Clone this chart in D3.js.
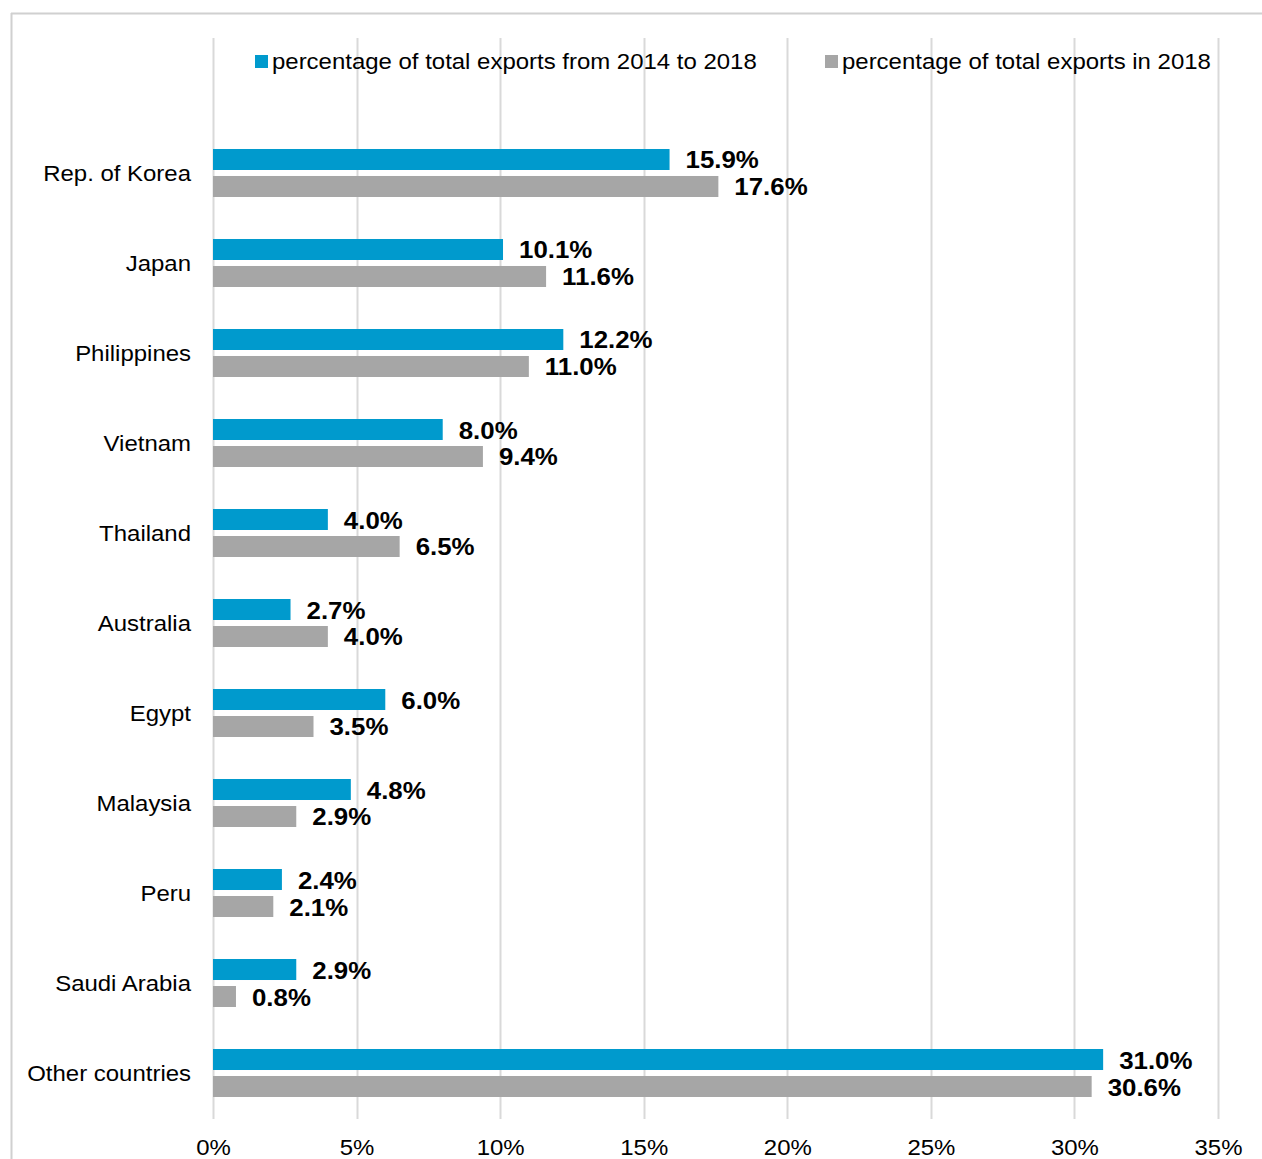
<!DOCTYPE html>
<html>
<head>
<meta charset="utf-8">
<script src="https://cdn.jsdelivr.net/npm/d3@7/dist/d3.min.js"></script>
<style>
  html, body { margin: 0; padding: 0; background: #fff; }
  svg { display: block; font-family: "Liberation Sans", Arial, sans-serif; }
</style>
</head>
<body>
<svg id="chart" width="1262" height="1159"></svg>
<script>
// Export destinations and shares (%)
const categories = ["Rep. of Korea", "Japan", "Philippines", "Vietnam", "Thailand", "Australia",
  "Egypt", "Malaysia", "Peru", "Saudi Arabia", "Other countries"];
const share2014to2018 = [15.9, 10.1, 12.2, 8.0, 4.0, 2.7, 6.0, 4.8, 2.4, 2.9, 31.0];
const share2018 = [17.6, 11.6, 11.0, 9.4, 6.5, 4.0, 3.5, 2.9, 2.1, 0.8, 30.6];
const seriesNames = ["percentage of total exports from 2014 to 2018", "percentage of total exports in 2018"];
const seriesKeys = ["a", "b"];
const xTicks = [0, 5, 10, 15, 20, 25, 30, 35];

const colors = { a: "#009ACD", b: "#A6A6A6" };
const FONT = "Liberation Sans, Arial, sans-serif";
const REG_SIZE = 22.5, REG_STRETCH = 1.065;   // regular text, slightly widened
const BOLD_SIZE = 23.5, BOLD_STRETCH = 1.1;   // value labels

const rows = categories.map((c, i) => ({ cat: c, a: share2014to2018[i], b: share2018[i] }));

const svg = d3.select("#chart");

// Frame lines
svg.append("line").attr("x1", 11).attr("x2", 1262).attr("y1", 13.5).attr("y2", 13.5)
  .attr("stroke", "#d0d0d0").attr("stroke-width", 2);
svg.append("line").attr("x1", 11.5).attr("x2", 11.5).attr("y1", 13).attr("y2", 1159)
  .attr("stroke", "#d0d0d0").attr("stroke-width", 2);

const x = d3.scaleLinear().domain([0, 35]).range([213, 1218]);
const y = d3.scaleBand().domain(categories).range([128, 1118])
  .paddingInner(0.4667).paddingOuter(0.2333);
const ySub = d3.scaleBand().domain(seriesKeys).range([0, y.bandwidth()]).paddingInner(0.222);

// Vertical gridlines
svg.append("g").selectAll("line").data(xTicks).join("line")
  .attr("x1", d => Math.round(x(d)) + 0.5).attr("x2", d => Math.round(x(d)) + 0.5)
  .attr("y1", 38).attr("y2", 1119)
  .attr("stroke", "#d9d9d9").attr("stroke-width", 2);

// X axis labels
const xAxis = d3.axisBottom(x).tickValues(xTicks).tickFormat(d => d + "%").tickSize(0).tickPadding(0);
const gx = svg.append("g").attr("transform", "translate(0,1155)").call(xAxis);
gx.select(".domain").remove();
gx.selectAll("text").attr("y", 0).attr("dy", 0)
  .attr("font-size", REG_SIZE).attr("fill", "#000").attr("font-family", FONT)
  .attr("transform", `scale(${REG_STRETCH},1)`);

// Category labels
const yAxis = d3.axisLeft(y).tickSize(0).tickPadding(0);
const gy = svg.append("g").attr("transform", "translate(191,0)").call(yAxis);
gy.select(".domain").remove();
gy.selectAll("text").attr("x", 0).attr("dy", 0)
  .attr("font-size", REG_SIZE).attr("fill", "#000").attr("font-family", FONT)
  .attr("transform", `translate(0,8) scale(${REG_STRETCH},1)`);

// Bars and value labels
const groups = svg.append("g").selectAll("g").data(rows).join("g")
  .attr("transform", d => `translate(0,${y(d.cat)})`);

seriesKeys.forEach(k => {
  groups.append("rect")
    .attr("x", x(0))
    .attr("y", ySub(k))
    .attr("width", d => x(d[k]) - x(0))
    .attr("height", ySub.bandwidth())
    .attr("fill", colors[k]);
  groups.append("g")
    .attr("transform", d => `translate(${x(d[k]) + 16},${ySub(k) + ySub.bandwidth() / 2 + 9}) scale(${BOLD_STRETCH},1)`)
    .append("text")
    .attr("font-size", BOLD_SIZE)
    .attr("font-weight", "bold")
    .attr("font-family", FONT)
    .attr("fill", "#000")
    .text(d => d[k].toFixed(1) + "%");
});

// Legend
const legendX = [255, 825];
const legend = svg.append("g").selectAll("g").data(seriesKeys).join("g")
  .attr("transform", (d, i) => `translate(${legendX[i]},55)`);
legend.append("rect").attr("width", 13).attr("height", 13).attr("fill", d => colors[d]);
legend.append("g").attr("transform", `translate(17,14) scale(${REG_STRETCH},1)`)
  .append("text").attr("font-size", REG_SIZE).attr("font-family", FONT).attr("fill", "#000")
  .text((d, i) => seriesNames[i]);
</script>
</body>
</html>
